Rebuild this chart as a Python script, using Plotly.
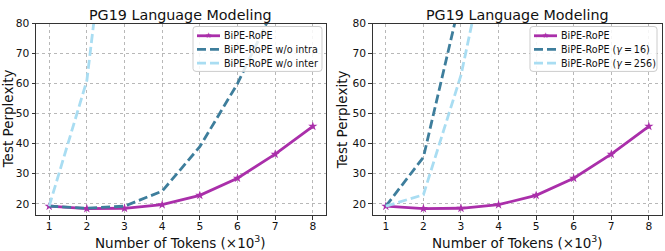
import plotly.graph_objects as go

x_tokens = [1, 2, 3, 4, 5, 6, 7, 8]
bipe_rope = [19.2, 18.4, 18.5, 19.7, 22.8, 28.5, 36.5, 45.8]
wo_intra = [19.2, 18.5, 19.2, 24.2, 39.0, 60.0, 86.0]
wo_inter = [19.2, 61.0, 166.0]
gamma16 = [19.2, 35.5, 89.0]
gamma256 = [19.2, 23.0, 62.8, 122.0]

x_ticks = [1, 2, 3, 4, 5, 6, 7, 8]
y_ticks = [20, 30, 40, 50, 60, 70, 80]

left_names = ["BiPE-RoPE", "BiPE-RoPE w/o intra", "BiPE-RoPE w/o inter"]
right_names = ["BiPE-RoPE", "BiPE-RoPE (<i>γ</i>\u2009=\u200916)", "BiPE-RoPE (<i>γ</i>\u2009=\u2009256)"]

PURPLE = "#AA2FAA"
DARK = "#3E7E9C"
LIGHT = "#A9DDF2"
FONT = "DejaVu Sans"
DASH = "9px,4px"
W, H = 665, 251

fig = go.Figure()

def add(x, y, name, color, dash, xa, ya, marker=False):
    fig.add_trace(go.Scatter(
        x=x, y=y, name=name, mode="lines+markers" if marker else "lines",
        line=dict(color=color, width=2.8, dash=dash),
        marker=dict(symbol="star", size=7, color=color) if marker else None,
        xaxis=xa, yaxis=ya, showlegend=False, cliponaxis=True,
    ))

add(x_tokens, bipe_rope, left_names[0], PURPLE, "solid", "x", "y", True)
add(x_tokens[:len(wo_intra)], wo_intra, left_names[1], DARK, DASH, "x", "y")
add(x_tokens[:len(wo_inter)], wo_inter, left_names[2], LIGHT, DASH, "x", "y")

add(x_tokens, bipe_rope, right_names[0], PURPLE, "solid", "x2", "y2", True)
add(x_tokens[:len(gamma16)], gamma16, right_names[1], DARK, DASH, "x2", "y2")
add(x_tokens[:len(gamma256)], gamma256, right_names[2], LIGHT, DASH, "x2", "y2")

def px_x(p):
    return p / W

def px_y(p):
    return 1 - p / H

top, bottom = 18, 214.3
left1, right1 = 36, 326
left2, right2 = 372.7, 662

axis_common = dict(
    showline=True, mirror=True, linecolor="#333", linewidth=1,
    ticks="outside", ticklen=3.5, tickcolor="#333", tickwidth=1,
    showgrid=True, gridcolor="#b8b8b8", griddash="dot", gridwidth=1,
    zeroline=False, tickfont=dict(family=FONT, size=10.7, color="#111"),
)

fig.update_layout(
    width=W, height=H,
    margin=dict(l=0, r=0, t=0, b=0),
    plot_bgcolor="white", paper_bgcolor="white",
    font=dict(family=FONT, color="#111"),
    xaxis=dict(domain=[px_x(left1), px_x(right1)], range=[0.65, 8.35],
               tickvals=x_ticks, anchor="y", ticklabelstandoff=-3, **axis_common),
    yaxis=dict(domain=[px_y(bottom), px_y(top)], range=[16.2, 80],
               tickvals=y_ticks, anchor="x", **axis_common),
    xaxis2=dict(domain=[px_x(left2), px_x(right2)], range=[0.65, 8.35],
                tickvals=x_ticks, anchor="y2", ticklabelstandoff=-3, **axis_common),
    yaxis2=dict(domain=[px_y(bottom), px_y(top)], range=[16.2, 80],
                tickvals=y_ticks, anchor="x2", **axis_common),
    showlegend=False,
)

annotations = []
shapes = []
for (l, r) in [(left1, right1), (left2, right2)]:
    cx = (l + r) / 2
    annotations.append(dict(text="PG19 Language Modeling", x=px_x(cx), y=px_y(9),
                            xref="paper", yref="paper", showarrow=False,
                            xanchor="center", yanchor="middle",
                            font=dict(family=FONT, size=14.3, color="#111")))
    annotations.append(dict(text="Number of Tokens (×10<sup>3</sup>)", x=px_x(cx), y=px_y(242),
                            xref="paper", yref="paper", showarrow=False,
                            xanchor="center", yanchor="middle",
                            font=dict(family=FONT, size=13.5, color="#111")))
for lx in (8, 342):
    annotations.append(dict(text="Test Perplexity", x=px_x(lx), y=px_y((top + bottom) / 2),
                            xref="paper", yref="paper", showarrow=False, textangle=-90,
                            xanchor="center", yanchor="middle",
                            font=dict(family=FONT, size=13.5, color="#111")))

# manual legends (matplotlib-like compact boxes)
def legend_box(x0, x1, y0, y1, names):
    rad = 3
    def P(xp, yp):
        return f"{px_x(xp):.5f},{px_y(yp):.5f}"
    path = (f"M {P(x0 + rad, y0)} L {P(x1 - rad, y0)} Q {P(x1, y0)} {P(x1, y0 + rad)} "
            f"L {P(x1, y1 - rad)} Q {P(x1, y1)} {P(x1 - rad, y1)} "
            f"L {P(x0 + rad, y1)} Q {P(x0, y1)} {P(x0, y1 - rad)} "
            f"L {P(x0, y0 + rad)} Q {P(x0, y0)} {P(x0 + rad, y0)} Z")
    shapes.append(dict(type="path", path=path, xref="paper", yref="paper",
                       fillcolor="rgba(255,255,255,0.85)", line=dict(color="#cccccc", width=1),
                       layer="above"))
    colors = [PURPLE, DARK, LIGHT]
    dashes = ["solid", DASH, DASH]
    for i, (name, c, d) in enumerate(zip(names, colors, dashes)):
        yc = y0 + 9.5 + i * 14
        shapes.append(dict(type="line", xref="paper", yref="paper",
                           x0=px_x(x0 + 4), x1=px_x(x0 + 27), y0=px_y(yc), y1=px_y(yc),
                           line=dict(color=c, width=2.8, dash=d), layer="above"))
        if i == 0:
            annotations.append(dict(text="★", x=px_x(x0 + 15.5), y=px_y(yc), xref="paper", yref="paper",
                                    showarrow=False, xanchor="center", yanchor="middle",
                                    font=dict(family=FONT, size=8, color=c)))
        annotations.append(dict(text=name, x=px_x(x0 + 29), y=px_y(yc), xref="paper", yref="paper",
                                showarrow=False, xanchor="left", yanchor="middle",
                                font=dict(family=FONT, size=9.6, color="#111")))

legend_box(193, 322, 21, 67, left_names)
legend_box(530, 657, 21, 67, right_names)

fig.update_layout(annotations=annotations, shapes=shapes)

fig.write_html("out.html", config={"displayModeBar": False},
               post_script="document.body.style.margin='0';document.body.style.overflow='hidden';")
